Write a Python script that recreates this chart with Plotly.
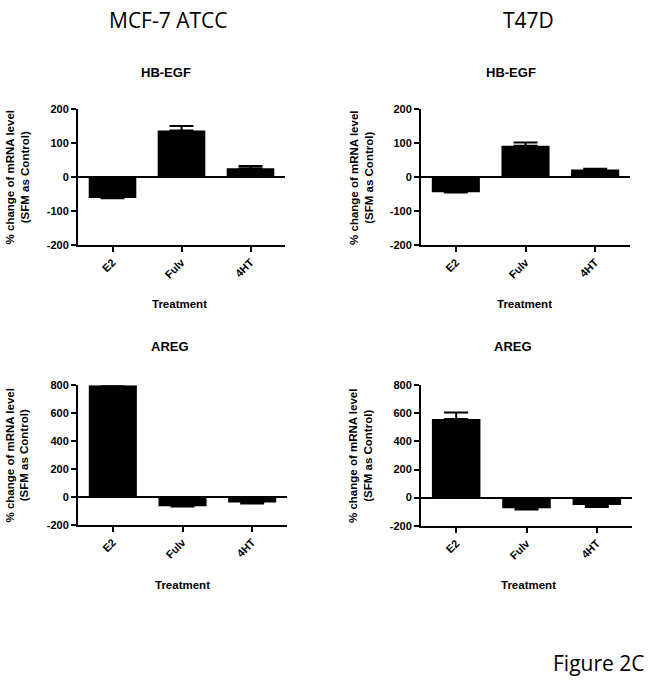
import plotly.graph_objects as go

W, H = 649, 685

categories = ["E2", "Fulv", "4HT"]

mcf7_hbegf = [-62, 137, 26]
mcf7_hbegf_err = [1, 13, 6]
t47d_hbegf = [-45, 92, 22]
t47d_hbegf_err = [1, 10, 2]
mcf7_areg = [800, -68, -40]
mcf7_areg_err = [0, 2, 7]
t47d_areg = [560, -75, -52]
t47d_areg_err = [46, 10, 14]

hbegf_ticks = [-200, -100, 0, 100, 200]
areg_ticks = [-200, 0, 200, 400, 600, 800]

panels = [
    # values, errors, xdomain px, ydomain px, ticks
    (mcf7_hbegf, mcf7_hbegf_err, (78, 285), (105, 243), hbegf_ticks),
    (t47d_hbegf, t47d_hbegf_err, (421, 630), (105, 243), hbegf_ticks),
    (mcf7_areg, mcf7_areg_err, (78, 287), (386, 528), areg_ticks),
    (t47d_areg, t47d_areg_err, (421, 632), (386, 529), areg_ticks),
]

FONT = "Liberation Sans, Arial, sans-serif"
fig = go.Figure()
layout = dict(
    width=W, height=H, autosize=False,
    margin=dict(l=0, r=0, t=0, b=0),
    paper_bgcolor="white", plot_bgcolor="white",
    showlegend=False, bargap=0.31,
    font=dict(family=FONT, color="black"),
)

for i, (vals, errs, xd, yd, ticks) in enumerate(panels):
    n = "" if i == 0 else str(i + 1)
    up = [e if v >= 0 else 0 for v, e in zip(vals, errs)]
    dn = [e if v < 0 else 0 for v, e in zip(vals, errs)]
    fig.add_trace(go.Bar(
        x=categories, y=vals,
        xaxis="x" + n, yaxis="y" + n,
        marker=dict(color="black", line=dict(width=0)),
        error_y=dict(type="data", symmetric=False, array=up, arrayminus=dn,
                     color="black", thickness=2, width=12),
    ))
    layout["xaxis" + n] = dict(
        domain=[xd[0] / W, xd[1] / W], anchor="y" + n,
        type="category", range=[-0.5, 2.5],
        showline=True, linecolor="black", linewidth=2,
        ticks="outside", ticklen=5, tickwidth=2, tickcolor="black",
        tickangle=-45, showgrid=False, zeroline=False,
        tickfont=dict(family=FONT, size=11, color="black", weight="bold"),
    )
    layout["yaxis" + n] = dict(
        domain=[1 - yd[1] / H, 1 - yd[0] / H], anchor="x" + n,
        range=[ticks[0], ticks[-1]], tickvals=ticks,
        ticktext=[str(t) for t in ticks],
        showline=True, linecolor="black", linewidth=2,
        ticks="outside", ticklen=5, tickwidth=2, tickcolor="black",
        showgrid=False, zeroline=True, zerolinecolor="black", zerolinewidth=2,
        tickfont=dict(family=FONT, size=11, color="black", weight="bold"),
    )

fig.update_layout(**layout)


def ann(text, x, y, size, bold=True, angle=0, family=FONT):
    fig.add_annotation(
        text=text, x=x / W, y=1 - y / H, xref="paper", yref="paper",
        xanchor="center", yanchor="middle", showarrow=False, textangle=angle,
        font=dict(family=family, size=size, color="black",
                  weight="bold" if bold else "normal"),
    )


ytitle = "% change of mRNA level<br>(SFM as Control)"
# subplot titles
ann("HB-EGF", 166, 68, 13)
ann("HB-EGF", 511, 68, 13)
ann("AREG", 170, 347, 13)
ann("AREG", 513, 347, 13)
# x titles
ann("Treatment", 180, 303, 11.5)
ann("Treatment", 524, 303, 11.5)
ann("Treatment", 183, 589, 11.5)
ann("Treatment", 528, 589, 11.5)
# y titles
ann(ytitle, 17.5, 175, 11.5, angle=-90)
ann(ytitle, 362, 175, 11.5, angle=-90)
ann(ytitle, 17.5, 458, 11.5, angle=-90)
ann(ytitle, 361, 458, 11.5, angle=-90)
# big labels
BIG = "Open Sans, Noto Sans, sans-serif"
ann("MCF-7 ATCC", 168, 14, 21, bold=False, family=BIG)
ann("T47D", 528, 14, 21, bold=False, family=BIG)
ann("Figure 2C", 599, 669, 21, bold=False, family=BIG)

fig.write_html(
    "out.html",
    config={"displayModeBar": False},
    post_script="document.body.style.margin='0';document.body.style.overflow='hidden';",
)
